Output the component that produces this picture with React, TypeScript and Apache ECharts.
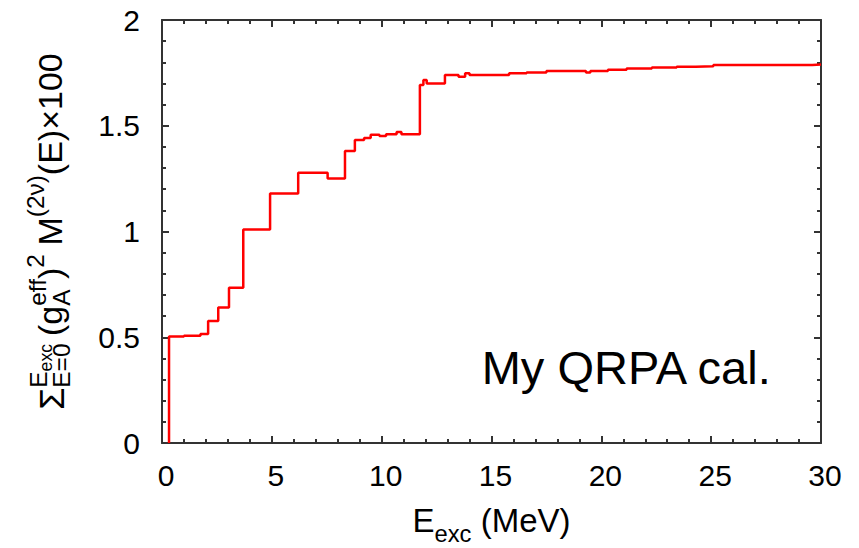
import React, { useEffect, useRef } from "react";
import * as echarts from "echarts";

// Excitation energy (MeV) where the cumulative sum changes
const energies = [0.32, 0.32, 1.0, 1.75, 2.1, 2.56, 3.05, 3.7, 4.92, 6.2, 7.54, 8.33, 8.78, 9.2, 9.5, 9.9, 10.2, 10.68, 10.9, 11.74, 11.9, 12.05, 12.88, 13.5, 13.8, 14.0, 15.8, 16.6, 17.5, 18.6, 19.3, 19.5, 20.3, 21.15, 22.3, 23.43, 24.3, 25.1, 27.0, 29.6, 30.0];
// Cumulative sum value (x100) from that energy on
const cumulative = [0, 0.503, 0.507, 0.515, 0.577, 0.641, 0.734, 1.01, 1.18, 1.278, 1.251, 1.381, 1.433, 1.442, 1.458, 1.451, 1.46, 1.471, 1.46, 1.693, 1.716, 1.70, 1.74, 1.732, 1.748, 1.74, 1.748, 1.752, 1.759, 1.759, 1.752, 1.759, 1.765, 1.771, 1.775, 1.779, 1.781, 1.787, 1.787, 1.79, 1.787];

const xTicks = [0, 5, 10, 15, 20, 25, 30];
const yTicks = [0, 0.5, 1, 1.5, 2];

const FONT = '"Liberation Sans", Arial, Helvetica, sans-serif';

function measure(text: string, size: number): number {
  const c = document.createElement("canvas").getContext("2d");
  if (!c) return text.length * size * 0.55;
  c.font = `${size}px ${FONT}`;
  return c.measureText(text).width;
}

type Piece = { t: string; s: number; dv: number };
type Item = Piece | { stack: Piece[][] } | { gap: number };

// build text children laid out along u with baseline offsets
function layout(items: Item[], F: number) {
  const children: any[] = [];
  let u = 0;
  const CENTRAL = 0.3465;
  const put = (p: Piece, u0: number) => {
    const size = p.s * F;
    const w = measure(p.t, size);
    children.push({
      type: "text",
      x: u0,
      y: p.dv * F - CENTRAL * size,
      silent: true,
      style: {
        text: p.t,
        fontSize: size,
        fontFamily: FONT,
        fill: "#000",
        textAlign: "left",
        align: "left",
        textVerticalAlign: "middle",
        verticalAlign: "middle",
      },
    });
    return w;
  };
  for (const it of items) {
    if ("gap" in it) {
      u += it.gap * F;
    } else if ("stack" in it) {
      let maxW = 0;
      for (const row of it.stack) {
        let uu = u;
        for (const p of row) uu += put(p, uu);
        maxW = Math.max(maxW, uu - u);
      }
      u += maxW;
    } else {
      u += put(it, u);
    }
  }
  return { children, length: u };
}

export default function App() {
  const ref = useRef<HTMLDivElement>(null);
  useEffect(() => {
    document.body.style.margin = "0";
    if (!ref.current) return;
    const chart = echarts.init(ref.current, undefined, { renderer: "svg" });

    const data = energies.map((e, i) => [e, cumulative[i]]);

    const F = 34;
    const S = 0.72;
    const yTitle = layout(
      [
        { t: "Σ", s: 1.05, dv: 0.08 },
        {
          stack: [
            [
              { t: "E", s: S, dv: -0.45 },
              { t: "exc", s: 0.52, dv: -0.3 },
            ],
            [{ t: "E=0", s: S, dv: 0.24 }],
          ],
        },
        { gap: 0.22 },
        { t: "(g", s: 1, dv: 0 },
        { stack: [[{ t: "eff", s: S, dv: -0.48 }], [{ t: "A", s: S, dv: 0.24 }]] },
        { t: ")", s: 1, dv: 0 },
        { t: "2", s: S, dv: -0.52 },
        { gap: 0.25 },
        { t: "M", s: 1, dv: 0 },
        { t: "(2ν)", s: S, dv: -0.52 },
        { t: "(E)×100", s: 1, dv: 0 },
      ],
      F
    );

    const xTitle = layout(
      [
        { t: "E", s: 1, dv: 0 },
        { t: "exc", s: 0.72, dv: 0.3 },
        { t: " (MeV)", s: 1, dv: 0 },
      ],
      33
    );

    const plotLeft = 162;
    const plotRight = 821;
    const plotTop = 20;
    const plotBottom = 443;

    const axisCommon = {
      axisLine: { show: true, onZero: false, lineStyle: { color: "#333", width: 2 } },
      axisTick: { show: true, inside: true, length: 7, lineStyle: { color: "#333", width: 2 } },
      minorTick: { show: true, splitNumber: 5, length: 4, lineStyle: { color: "#333", width: 2 } },
      splitLine: { show: false },
      minorSplitLine: { show: false },
    };

    chart.setOption({
      animation: false,
      backgroundColor: "#fff",
      grid: { left: plotLeft, right: 859 - plotRight, top: plotTop, bottom: 548 - plotBottom, containLabel: false },
      xAxis: [
        {
          type: "value",
          min: xTicks[0],
          max: xTicks[xTicks.length - 1],
          interval: 5,
          position: "bottom",
          ...axisCommon,
          axisLabel: {
            show: true,
            color: "#000",
            fontSize: 30,
            fontFamily: FONT,
            margin: 17,
            padding: [0, 0, 0, 8],
            formatter: (v: number) => (xTicks.includes(v) ? String(v) : ""),
          },
        },
        {
          type: "value",
          min: xTicks[0],
          max: xTicks[xTicks.length - 1],
          interval: 5,
          position: "top",
          ...axisCommon,
          axisLabel: { show: false },
        },
      ],
      yAxis: [
        {
          type: "value",
          min: yTicks[0],
          max: yTicks[yTicks.length - 1],
          interval: 0.5,
          position: "left",
          ...axisCommon,
          axisLabel: {
            show: true,
            color: "#000",
            fontSize: 30,
            fontFamily: FONT,
            margin: 22,
            formatter: (v: number) => (yTicks.includes(v) ? String(v) : ""),
          },
        },
        {
          type: "value",
          min: yTicks[0],
          max: yTicks[yTicks.length - 1],
          interval: 0.5,
          position: "right",
          ...axisCommon,
          axisLabel: { show: false },
        },
      ],
      series: [
        {
          type: "line",
          data,
          step: "end",
          symbol: "none",
          lineStyle: { color: "#ff0000", width: 2.5 },
          xAxisIndex: 0,
          yAxisIndex: 0,
          z: 1,
        },
      ],
      graphic: [
        {
          type: "group",
          x: 62,
          y: (plotTop + plotBottom) / 2 + yTitle.length / 2,
          rotation: Math.PI / 2,
          children: yTitle.children,
        },
        {
          type: "group",
          x: (plotLeft + plotRight) / 2 - xTitle.length / 2,
          y: 531.5,
          children: xTitle.children,
        },
        {
          type: "text",
          x: 481.7,
          y: 383.3 - 0.3465 * 47,
          silent: true,
          style: {
            text: "My QRPA cal.",
            fontSize: 47,
            fontFamily: FONT,
            fill: "#000",
            textAlign: "left",
            align: "left",
            textVerticalAlign: "middle",
            verticalAlign: "middle",
          },
        },
      ],
    });

    return () => chart.dispose();
  }, []);

  return (
    <div
      ref={ref}
      style={{ position: "absolute", left: 0, top: 0, width: 859, height: 548 }}
    />
  );
}
